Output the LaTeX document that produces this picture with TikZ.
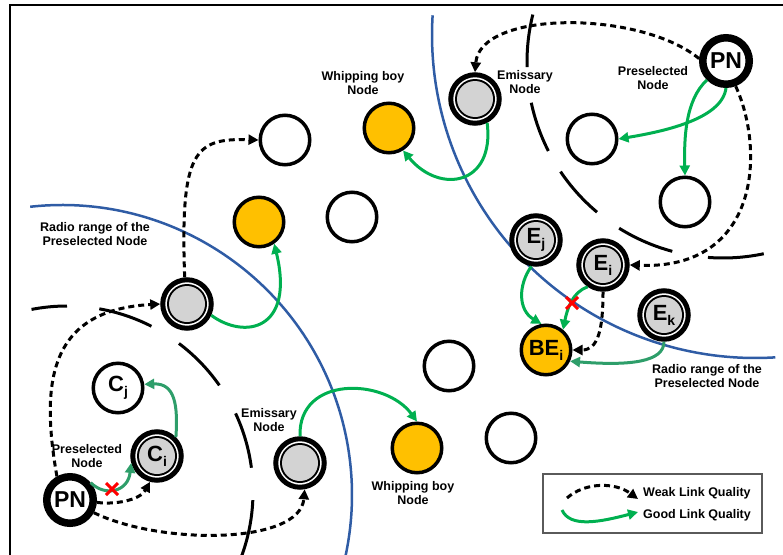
\documentclass[tikz,border=0pt]{standalone}
\usepackage{fontspec}
\setmainfont{Liberation Sans}
\usetikzlibrary{arrows.meta,calc}
\definecolor{gold}{RGB}{255,192,0}
\definecolor{grayfill}{RGB}{211,211,211}
\definecolor{gA}{RGB}{0,176,80}
\definecolor{gB}{RGB}{46,158,106}
\definecolor{blueR}{RGB}{47,92,165}
\definecolor{legframe}{RGB}{90,90,90}
\newcommand\nsub[2]{#1\raisebox{-5pt}{\fontsize{14}{14}\selectfont #2}}
\begin{document}
\begin{tikzpicture}[x=1pt,y=1pt,
 plain/.style={circle, draw=black, line width=3.5pt, fill=white, minimum size=49.5pt, inner sep=0pt, font=\bfseries\fontsize{22}{22}\selectfont},
 yel/.style={plain, fill=gold},
 emi/.style={circle, draw=black, line width=5pt, fill=white, minimum size=48.5pt, inner sep=0pt, font=\bfseries\fontsize{22}{22}\selectfont,
   path picture={\fill[black] (path picture bounding box.center) circle (20pt);
                 \fill[grayfill] (path picture bounding box.center) circle (18pt);}},
 pn/.style={circle, draw=black, line width=7.5pt, fill=white, minimum size=46.5pt, inner sep=0pt, font=\bfseries\fontsize{23}{23}\selectfont},
 lbl/.style={align=center, font=\bfseries\fontsize{12.5}{14.5}\selectfont, inner sep=0pt},
 weak/.style={draw=black, line width=3pt, dash pattern=on 6pt off 4pt, -{Triangle[length=10pt,width=10pt]}},
 good/.style={draw=gA, line width=3pt, -{Triangle[length=10pt,width=10pt]}},
 goodB/.style={good, draw=gB},
 bluerange/.style={draw=blueR, line width=2.5pt},
 zonearc/.style={draw=black, line width=3pt},
 crossline/.style={draw=red, line width=3pt},
]
\useasboundingbox (0,0) rectangle (783,-554);
\clip (0,0) rectangle (783,-554);
% frame
\draw[line width=1.5pt] (10,-560) -- (10,-5) -- (790,-5);

% centres of ranges
\coordinate (cL) at (67,-492);
\coordinate (cR) at (723,-62);
\coordinate (bL) at (62,-495);
\coordinate (bR) at (755,-35);

% blue radio ranges
\draw[bluerange] (bL) ++(96.3:290) arc[start angle=96.3, end angle=-25, radius=290];
\draw[bluerange] (bR) ++(176.5:323) arc[start angle=176.5, end angle=273.6, radius=323];

% black long-dashed zones
\foreach \a/\b in {101/90, 80/63, 53/35, 25/7.5, -2.5/-25}
  \draw[zonearc] (cL) ++(\a:186) arc[start angle=\a, end angle=\b, radius=186];
\foreach \a/\b in {166/181.5, 192/207, 214/230, 238/255, 265.6/282}
  \draw[zonearc] (cR) ++(\a:196) arc[start angle=\a, end angle=\b, radius=196];

% nodes
\node[plain] (w1) at (285,-140) {};
\node[yel]   (y1) at (389,-128) {};
\node[yel]   (y2) at (259,-222) {};
\node[plain] (w2) at (352,-217) {};
\node[emi]   (e1) at (187,-304) {};
\node[plain] (cj) at (118,-388) {\nsub{C}{j}};
\node[emi]   (ci) at (157,-456) {\nsub{C}{i}};
\node[pn]    (pn1) at (70,-500) {PN};
\node[emi]   (e2) at (300,-463) {};
\node[yel]   (y3) at (417,-448) {};
\node[plain] (w3) at (511,-438) {};
\node[plain] (w4) at (449,-366) {};
\node[yel]   (bei) at (546,-350) {\nsub{BE}{i}};
\node[emi]   (ek) at (664,-315) {\nsub{E}{k}};
\node[emi]   (ei) at (603,-265) {\nsub{E}{i}};
\node[emi]   (ej) at (536,-240) {\nsub{E}{j}};
\node[emi]   (e3) at (475,-99) {};
\node[pn]    (pn2) at (726,-61) {PN};
\node[plain] (w5) at (592,-139) {};
\node[plain] (w6) at (685,-202) {};

% labels
\node[lbl] (l1) at (363,-83) {Whipping boy\\Node};
\node[lbl] (l2) at (525,-82) {Emissary\\Node};
\node[lbl] (l3) at (653,-78) {Preselected\\Node};
\node[lbl] (l4) at (95,-234) {Radio range of the\\Preselected Node};
\node[lbl] (l5) at (707,-376) {Radio range of the\\Preselected Node};
\node[lbl] (l6) at (87,-456) {Preselected\\Node};
\node[lbl] (l7) at (269,-420) {Emissary\\Node};
\node[lbl] (l8) at (413,-493) {Whipping boy\\Node};

% weak links
\draw[weak] (e1.95) .. controls (180,-150) and (195,-138) .. (w1.west);
\draw[weak] (pn1.119) .. controls (40,-380) and (50,-310) .. (e1.west);
\draw[weak] (pn1.-5) .. controls (115,-505) and (140,-500) .. (ci.-105);
\draw[weak] (pn1.-28) .. controls (160,-545) and (300,-545) .. (e2.-80);
\draw[weak] (pn2.175) .. controls (640,-10) and (480,-10) .. (e3.north);
\draw[weak] (pn2.-69) .. controls (765,-150) and (760,-270) .. (ei.east);
\draw[weak] (ei.south) .. controls (603,-330) and (598,-350) .. (bei.east);

% good links
\draw[good] (e1.-25) .. controls (245,-340) and (295,-330) .. (y2.-55);
\draw[good] (e3.-63) .. controls (495,-185) and (440,-195) .. (y1.-58);
\draw[good] (pn2.-90) .. controls (722,-120) and (660,-132) .. (w5.east);
\draw[good] (pn2.-135) .. controls (685,-100) and (684,-140) .. (w6.north);
\draw[good] (ej.-100) .. controls (518,-285) and (518,-310) .. (bei.100);
\draw[good] (ei.-125) .. controls (572,-292) and (567,-310) .. (bei.50);
\draw[goodB] (ek.-90) .. controls (664,-362) and (630,-366) .. (bei.-25);
\draw[goodB] (ci.45) .. controls (178,-405) and (175,-383) .. (cj.8);
\draw[goodB] (pn1.40) .. controls (105,-497) and (128,-492) .. (ci.195);
\draw[good] (e2.north) .. controls (298,-375) and (385,-378) .. (y3.north);

% failed links
\coordinate (x1) at (572,-303);
\coordinate (x2) at (112,-489);
\draw[crossline] (x1) ++(-6,-6) -- ++(12,12) (x1) ++(-6,6) -- ++(12,-12);
\draw[crossline] (x2) ++(-6,-6) -- ++(12,12) (x2) ++(-6,6) -- ++(12,-12);

% legend
\node[draw=legframe, line width=1.2pt, minimum width=219pt, minimum height=59pt, inner sep=0pt] (leg) at (652.5,-503.5) {};
\node[lbl, anchor=west] (lt1) at (643,-493) {Weak Link Quality};
\node[lbl, anchor=west] (lt2) at (643,-515) {Good Link Quality};
\coordinate (la1) at (567,-498);
\coordinate (la2) at (638,-499);
\coordinate (lb1) at (562,-510);
\coordinate (lb2) at (638,-512);
\draw[weak] (la1) .. controls (585,-482) and (615,-482) .. (la2);
\draw[good] (lb1) .. controls (570,-528) and (600,-522) .. (lb2);
\end{tikzpicture}
\end{document}
